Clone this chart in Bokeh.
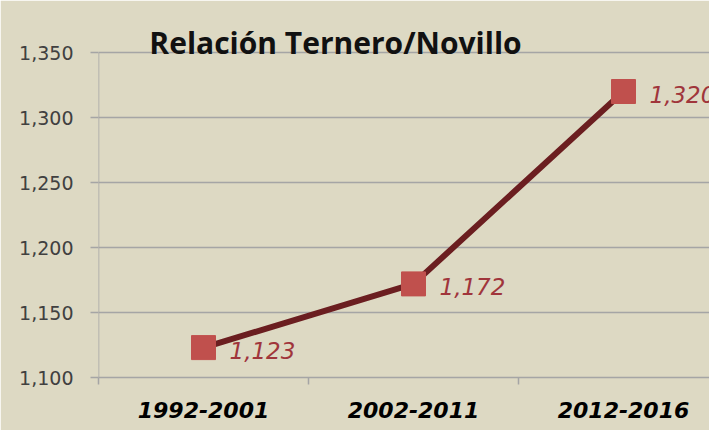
from bokeh.plotting import figure
from bokeh.models import (Range1d, FixedTicker, Label, ColumnDataSource, LabelSet,
                          NumeralTickFormatter)
from bokeh.core.properties import value
from bokeh.embed import file_html
from bokeh.resources import INLINE

categories = ["1992-2001", "2002-2011", "2012-2016"]
values = [1123, 1172, 1320]
y_ticks = [1100, 1150, 1200, 1250, 1300, 1350]
title_text = "Relación Ternero/Novillo"

BG = "#DDD9C3"
GRID = "#A5A5A5"

xs = [i + 0.5 for i in range(len(categories))]
src = ColumnDataSource(dict(x=xs, y=values, lab=[f"{v:,}" for v in values]))

W, H = 709, 430
LEFT = 98
TOP = 10
PX_PER_CAT = 210.0
PX_PER_50 = 65.0
y_top = 1350 + (52 - TOP) / PX_PER_50 * 50
p = figure(width=W, height=H, output_backend="svg", toolbar_location=None,
           x_range=Range1d(0, (W - LEFT) / PX_PER_CAT), y_range=Range1d(1100, y_top),
           min_border_left=LEFT, min_border_right=0, min_border_top=TOP,
           min_border_bottom=H - 377)
p.background_fill_color = BG
p.border_fill_color = BG
p.outline_line_color = BG
p.outline_line_width = 2

# y axis (its line is drawn as a segment limited to the tick span)
p.yaxis.ticker = FixedTicker(ticks=y_ticks)
p.yaxis.formatter = NumeralTickFormatter(format="0,0")
p.yaxis.axis_line_color = None
p.yaxis.major_tick_line_color = GRID
p.yaxis.major_tick_line_width = 1.5
p.yaxis.major_tick_out = 8
p.yaxis.major_tick_in = 0
p.yaxis.minor_tick_line_color = None
p.yaxis.major_label_text_font = "DejaVu Sans"
p.yaxis.major_label_text_font_size = "19px"
p.yaxis.major_label_text_color = "#404040"
p.yaxis.major_label_standoff = 17

# x axis
p.xaxis.ticker = FixedTicker(ticks=xs, minor_ticks=list(range(len(categories) + 1)))
p.xaxis.major_label_overrides = {x: c for x, c in zip(xs, categories)}
p.xaxis.axis_line_color = GRID
p.xaxis.axis_line_width = 1.5
p.xaxis.major_tick_line_color = None
p.xaxis.minor_tick_line_color = GRID
p.xaxis.minor_tick_line_width = 1.5
p.xaxis.minor_tick_out = 7
p.xaxis.minor_tick_in = 0
p.xaxis.major_label_text_font = "DejaVu Sans"
p.xaxis.major_label_text_font_style = "bold italic"
p.xaxis.major_label_text_font_size = "22px"
p.xaxis.major_label_text_color = "#000000"
p.xaxis.major_label_standoff = 17

p.xgrid.grid_line_color = None
p.ygrid.ticker = FixedTicker(ticks=y_ticks)
p.ygrid.grid_line_color = GRID
p.ygrid.grid_line_width = 1.5

p.segment(x0=[0], y0=[y_ticks[0]], x1=[0], y1=[y_ticks[-1]], line_color=GRID,
          line_width=1.5)

p.line("x", "y", source=src, line_color="#6B1E20", line_width=6)
p.scatter("x", "y", source=src, marker="square", size=24, fill_color="#C0504D",
          line_color="#C0504D")

labels = LabelSet(x="x", y="y", text="lab", source=src, x_offset=26, y_offset=-3,
                  text_baseline="middle", text_align="left",
                  text_font=value("DejaVu Sans"), text_font_style="italic",
                  text_font_size="23px", text_color="#A0353B")
p.add_layout(labels)

p.add_layout(Label(x=(335 - LEFT) / PX_PER_CAT, y=1350, y_offset=10, text=title_text,
                   text_align="center", text_baseline="alphabetic", text_font="Open Sans",
                   text_font_style="bold", text_font_size="30px", text_color="#111111"))

open("out.html", "w").write(file_html(p, INLINE))
